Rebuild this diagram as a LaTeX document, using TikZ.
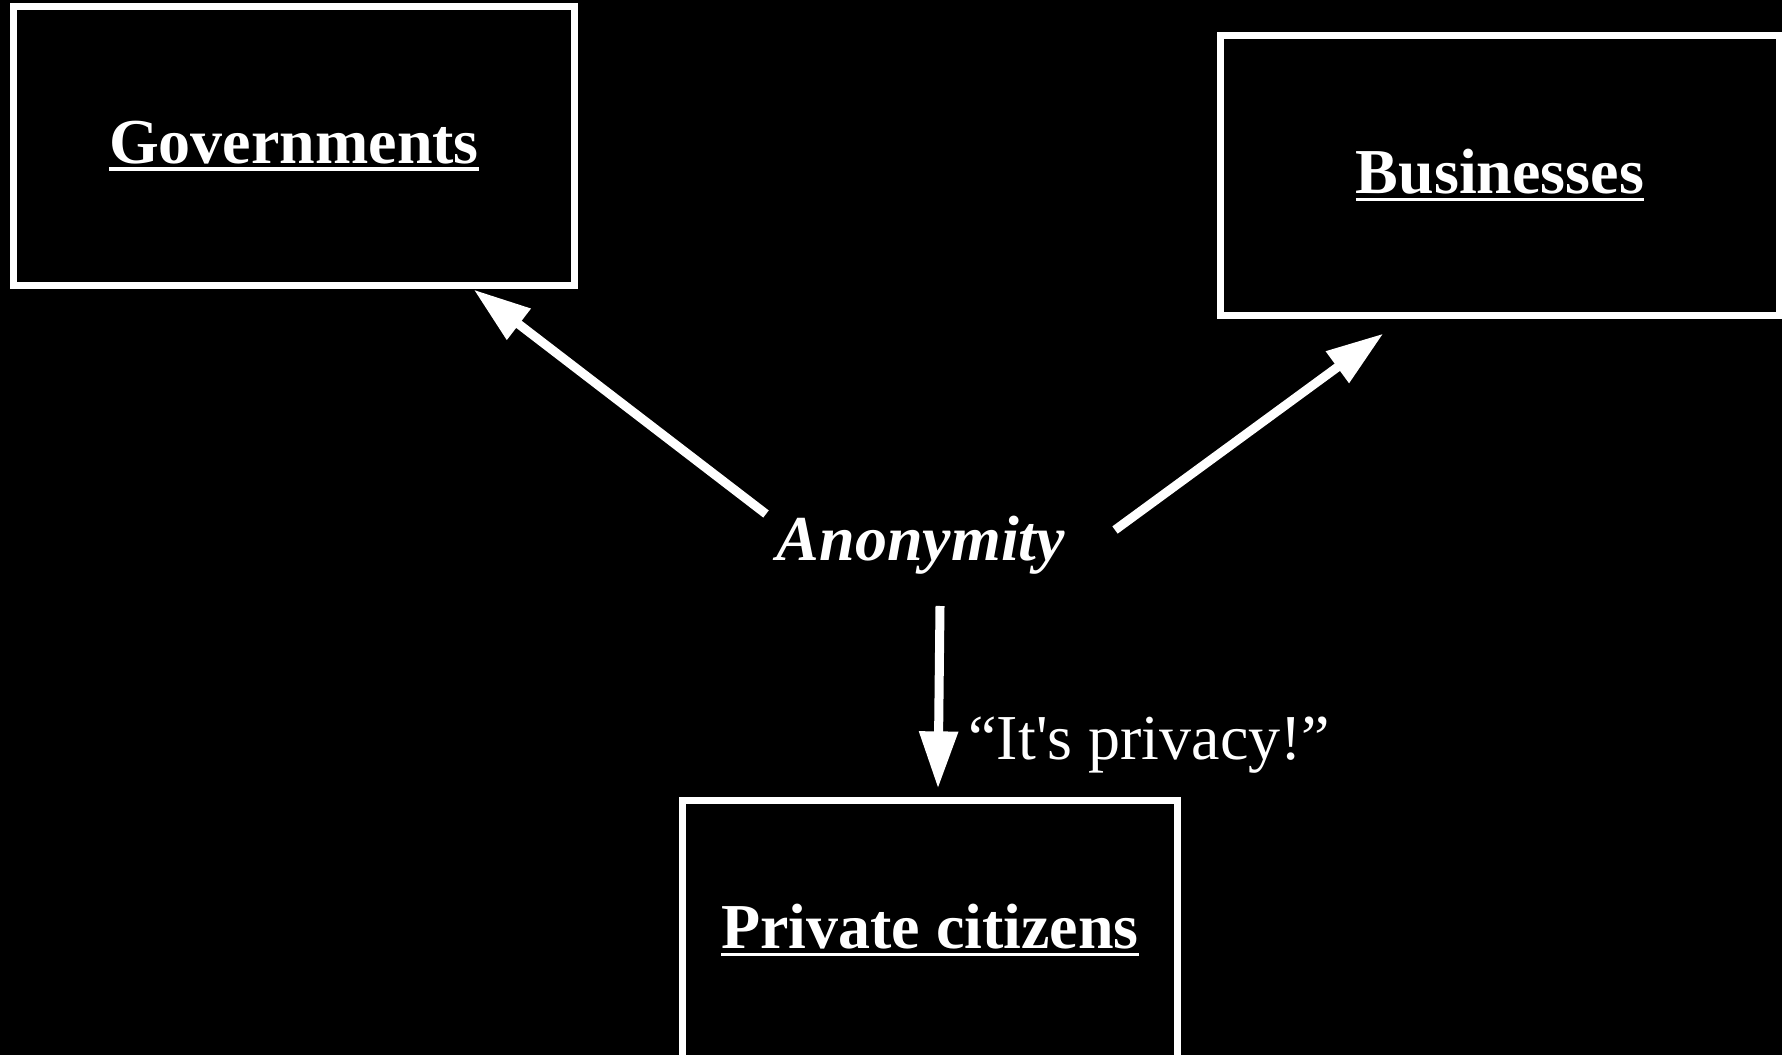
\documentclass[tikz,border=0pt]{standalone}
\usepackage{fontspec}
\setmainfont{Liberation Serif}
\usetikzlibrary{arrows.meta}

\newcommand\boxtitle[1]{\setbox0\hbox{#1}\rlap{\rule[-0.117em]{\wd0}{0.055em}}\box0}

\begin{document}
\begin{tikzpicture}[x=0.01cm,y=-0.01cm,
  >={Triangle[length=0.57cm,width=0.37cm]},
  group/.style={draw=white,line width=0.07cm,inner sep=0pt,text=white,
    font=\fontsize{18.2}{22}\selectfont\bfseries},
  arr/.style={->,draw=white,fill=white,line width=0.09cm},
  quote/.style={anchor=base west,inner sep=0pt,text=white,font=\fontsize{18.2}{22}\selectfont}]
\fill[black] (0,0) rectangle (1782,1055);
\useasboundingbox (0,0) rectangle (1782,1055);

\node[group,minimum width=5.6cm,minimum height=2.78cm] (gov) at (294,146) {\boxtitle{Governments}};
\node[group,minimum width=5.58cm,minimum height=2.79cm] (bus) at (1500,175.5) {\boxtitle{Businesses}};
\node[group,minimum width=4.94cm,minimum height=2.59cm] (priv) at (930,930.5) {\boxtitle{Private citizens}};
\node[anchor=base,inner sep=0pt,text=white,font=\fontsize{18.2}{22}\selectfont\bfseries\itshape] (anon) at (921,560) {Anonymity};

\draw[arr] ([shift={(-155,-46)}]anon.base) -- ([shift={(-104,1)}]gov.south east);
\draw[arr] ([shift={(194,-30)}]anon.base) -- ([shift={(166,15)}]bus.south west);
\draw[arr] ([shift={(19,46)}]anon.base) -- ([shift={(8,-9)}]priv.north)
  node[quote,pos=.84,xshift=0.257cm]{``It\textquotesingle s privacy!''};

\end{tikzpicture}
\end{document}
